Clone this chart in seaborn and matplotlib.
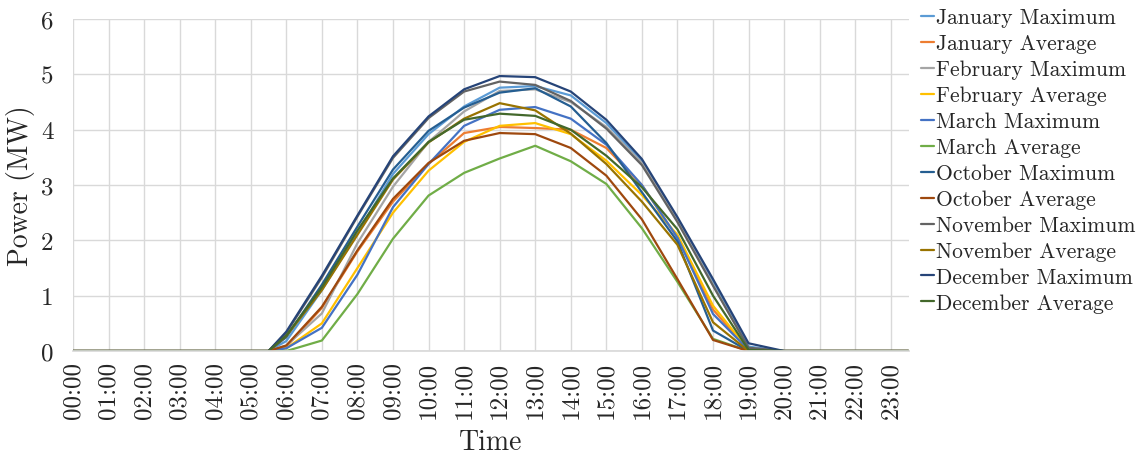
import matplotlib
matplotlib.use("Agg")
import matplotlib.pyplot as plt
import seaborn as sns
import pandas as pd

# Sample times in hours (night-time stretches are flat at zero)
hours = [0, 5.5, 6, 7, 8, 9, 10, 11, 12, 13, 14, 15, 16, 17, 18, 19, 20, 23.5]

jan_max = [0, 0, 0.18, 1.10, 2.13, 3.20, 3.92, 4.42, 4.76, 4.79, 4.62, 4.12, 3.43, 2.38, 1.24, 0.08, 0, 0]
jan_avg = [0, 0, 0.08, 0.78, 1.80, 2.70, 3.38, 3.94, 4.05, 4.03, 4.00, 3.67, 3.00, 2.05, 0.75, 0.02, 0, 0]
feb_max = [0, 0, 0.10, 0.68, 1.95, 2.97, 3.78, 4.33, 4.70, 4.73, 4.50, 4.05, 3.40, 2.36, 1.20, 0.05, 0, 0]
feb_avg = [0, 0, 0.05, 0.50, 1.50, 2.50, 3.26, 3.78, 4.07, 4.12, 3.92, 3.44, 2.82, 2.10, 0.82, 0.02, 0, 0]
mar_max = [0, 0, 0.05, 0.42, 1.38, 2.60, 3.38, 4.07, 4.36, 4.41, 4.20, 3.73, 3.00, 2.05, 0.67, 0.02, 0, 0]
mar_avg = [0, 0, 0.00, 0.19, 1.03, 2.03, 2.81, 3.22, 3.48, 3.71, 3.43, 3.02, 2.22, 1.25, 0.22, 0.00, 0, 0]
oct_max = [0, 0, 0.25, 1.20, 2.25, 3.28, 3.98, 4.40, 4.67, 4.75, 4.42, 3.76, 2.87, 1.98, 0.37, 0.00, 0, 0]
oct_avg = [0, 0, 0.10, 0.80, 1.82, 2.75, 3.40, 3.80, 3.94, 3.92, 3.67, 3.17, 2.38, 1.30, 0.20, 0.00, 0, 0]
nov_max = [0, 0, 0.33, 1.33, 2.43, 3.49, 4.21, 4.69, 4.87, 4.81, 4.52, 4.02, 3.36, 2.33, 1.18, 0.06, 0, 0]
nov_avg = [0, 0, 0.27, 1.10, 2.10, 3.10, 3.77, 4.20, 4.48, 4.35, 3.93, 3.38, 2.70, 1.92, 0.52, 0.00, 0, 0]
dec_max = [0, 0, 0.35, 1.36, 2.45, 3.52, 4.24, 4.73, 4.97, 4.95, 4.69, 4.18, 3.47, 2.42, 1.30, 0.14, 0, 0]
dec_avg = [0, 0, 0.28, 1.15, 2.18, 3.12, 3.78, 4.18, 4.29, 4.25, 4.00, 3.53, 2.96, 2.20, 1.00, 0.02, 0, 0]

series_names = [
    "January Maximum", "January Average",
    "February Maximum", "February Average",
    "March Maximum", "March Average",
    "October Maximum", "October Average",
    "November Maximum", "November Average",
    "December Maximum", "December Average",
]
series_values = [jan_max, jan_avg, feb_max, feb_avg, mar_max, mar_avg,
                 oct_max, oct_avg, nov_max, nov_avg, dec_max, dec_avg]
series_colors = ["#5B9BD5", "#ED7D31", "#A5A5A5", "#FFC000", "#4472C4", "#70AD47",
                 "#255E91", "#9E480E", "#636363", "#997300", "#264478", "#43682B"]

tick_hours = list(range(24))
tick_labels = [f"{h:02d}:00" for h in tick_hours]
y_ticks = [0, 1, 2, 3, 4, 5, 6]

rows = []
for name, vals in zip(series_names, series_values):
    for h, v in zip(hours, vals):
        rows.append({"Time": h, "Power": v, "Series": name})
df = pd.DataFrame(rows)

sns.set_theme(style="white")
plt.rcParams["font.family"] = ["cmr10", "DejaVu Serif"]
plt.rcParams["axes.formatter.use_mathtext"] = True

fig = plt.figure(figsize=(11.4, 4.56), dpi=100)
ax = fig.add_axes([0.064, 0.228, 0.733, 0.728])

sns.lineplot(data=df, x="Time", y="Power", hue="Series", hue_order=series_names,
             palette=dict(zip(series_names, series_colors)), linewidth=1.6,
             ax=ax, legend=True)

ax.set_xlim(0, 23.5)
ax.set_ylim(0, 6)
ax.set_xticks(tick_hours)
ax.set_xticklabels(tick_labels, rotation=90, fontsize=18)
ax.set_yticks(y_ticks)
ax.set_yticklabels([str(t) for t in y_ticks], fontsize=18)
ax.tick_params(axis="x", length=0, pad=7)
ax.tick_params(axis="y", length=0, pad=14)
ax.grid(True, color="#D9D9D9", linewidth=1.0)
ax.set_axisbelow(True)
for side in ["top", "right", "left"]:
    ax.spines[side].set_visible(False)
ax.spines["bottom"].set_color("#D9D9D9")

ax.set_xlabel("Time", fontsize=20)
ax.xaxis.set_label_coords(0.5, -0.235)
ax.set_ylabel("Power (MW)", fontsize=20)
ax.yaxis.set_label_coords(-0.045, 0.5)

handles, labels = ax.get_legend_handles_labels()
ax.legend(handles, labels, loc="upper left", bbox_to_anchor=(1.005, 1.06),
          frameon=False, fontsize=15.5, handlelength=0.6, handletextpad=0.1,
          labelspacing=0.3, borderaxespad=0.0)

fig.savefig("out.png", dpi=100)
